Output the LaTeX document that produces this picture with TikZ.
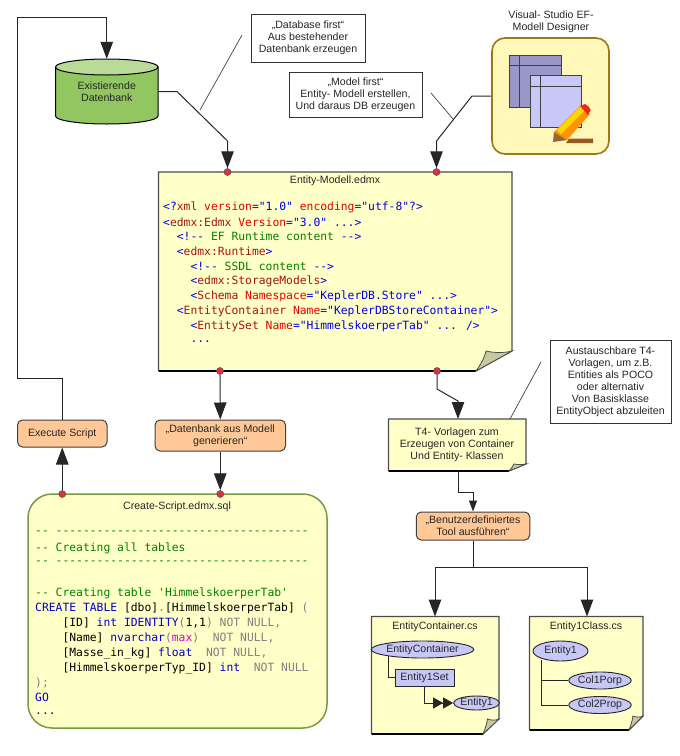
\documentclass[tikz,border=0pt]{standalone}
\usepackage{fontspec}
\setmainfont{Liberation Sans}
\newfontfamily\codefont{DejaVu Sans Mono}
\usetikzlibrary{arrows.meta,shapes.geometric}
\definecolor{noteY}{HTML}{FFFFC8}
\definecolor{orangeB}{HTML}{FFC896}
\definecolor{lilac}{HTML}{C8C8F8}
\definecolor{lilacdark}{HTML}{9898C8}
\definecolor{foldc}{HTML}{C8C8A0}
\definecolor{dotred}{HTML}{E03040}
\definecolor{desfill}{HTML}{FFF8B8}
\definecolor{desline}{HTML}{A07818}
\definecolor{cylb}{HTML}{92C660}
\definecolor{cylt}{HTML}{B8DC98}
\definecolor{sqlline}{HTML}{789A40}
\definecolor{xblue}{HTML}{0000E0}
\definecolor{xtag}{HTML}{A31515}
\definecolor{xattr}{HTML}{E00000}
\definecolor{xgreen}{HTML}{008000}
\definecolor{sqlkw}{HTML}{0000C0}
\definecolor{sqlgray}{HTML}{808080}
\definecolor{sqlmag}{HTML}{E000C0}
\newcommand{\cB}[1]{\textcolor{xblue}{#1}}
\newcommand{\cT}[1]{\textcolor{xtag}{#1}}
\newcommand{\cA}[1]{\textcolor{xattr}{#1}}
\newcommand{\cC}[1]{\textcolor{xgreen}{#1}}
\newcommand{\cK}[1]{\textcolor{sqlkw}{#1}}
\newcommand{\cG}[1]{\textcolor{sqlgray}{#1}}
\newcommand{\cM}[1]{\textcolor{sqlmag}{#1}}
\tikzset{
  lbl/.style={font=\fontsize{10.6}{12}\selectfont,align=center,inner sep=0pt,text=black!85},
  plainbox/.style={lbl,draw=black!80,fill=white,line width=0.8pt},
  action/.style={lbl,draw=black!75,fill=orangeB,rounded corners=5pt,line width=1pt},
  codeline/.style={anchor=west,inner sep=0pt,font=\codefont\fontsize{11.35}{13}\selectfont},
  conn/.style={draw=black!85,line width=1pt},
  tipped/.style={conn,-{Triangle[length=17pt,width=12.5pt]}},
  smalltip/.style={conn,-{Triangle[length=11pt,width=8pt]}},
  lead/.style={draw=black!75,line width=0.7pt},
  reddot/.style={circle,draw=black!70,fill=dotred,line width=0.5pt,minimum size=7pt,inner sep=0pt},
  oval/.style={ellipse,lbl,draw=black!85,fill=lilac,line width=0.9pt,inner sep=0pt},
  notepaper/.style={draw=black!70,fill=noteY,line width=1.1pt},
  foldpaper/.style={draw=black!70,fill=foldc,line width=0.8pt},
}
% x0 y0 x1 y1 foldw foldh
\newcommand{\foldnote}[6]{%
  \path[notepaper] (#1,#2) -- (#3,#2) -- (#3,#4-#6) -- (#3-#5,#4) -- (#1,#4) -- cycle;
  \draw[black,line width=1.1pt] (#1,#4) -- (#3-#5,#4);
  \path[foldpaper] (#3-#5,#4) .. controls (#3-#5+0.2*#5,#4-0.5*#6) and (#3-#5+0.25*#5,#4-0.8*#6) .. (#3-0.72*#5,#4-#6) .. controls (#3-0.5*#5,#4-0.9*#6) and (#3-0.2*#5,#4-0.9*#6) .. (#3,#4-#6) -- cycle;
}
\begin{document}
\begin{tikzpicture}[x=1pt,y=-1pt]
\useasboundingbox (0,0) rectangle (680,756);

% ---- Database cylinder
\path[draw=black,line width=1pt,fill=cylb] (55.5,67) -- (55.5,116) arc[x radius=51.25pt,y radius=8pt,start angle=180,end angle=360] -- (158,67) -- cycle;
\path[draw=black,line width=1pt,fill=cylt] (106.75,67) ellipse[x radius=51.25pt,y radius=8pt];
\node[lbl,minimum width=102.5pt,minimum height=65pt] (db) at (106.75,91.5) {Existierende\\Datenbank};

% ---- Notes at top
\node[plainbox,minimum width=114pt,minimum height=48pt] (notedb) at (308,38) {„Database first“\\Aus bestehender\\Datenbank erzeugen};
\node[plainbox,minimum width=133pt,minimum height=45pt] (notemodel) at (355.5,94.5) {„Model first“\\Entity- Modell erstellen,\\Und daraus DB erzeugen};

% ---- Designer
\node[lbl] (designerlabel) at (551,22) {Visual- Studio EF-\\Modell Designer};
\node[draw=desline,fill=desfill,line width=1.6pt,rounded corners=13pt,minimum width=117pt,minimum height=116pt,inner sep=0pt] (designer) at (550.5,96) {};
\draw[black!75,fill=lilacdark,line width=0.8pt] (509,55) rectangle (561,107);
\draw[black!75,line width=0.8pt] (509,65) -- (561,65) (519,55) -- (519,107);
\draw[black!75,fill=lilac,line width=0.8pt] (530,75.5) rectangle (581,127);
\draw[black!75,line width=0.8pt] (530,86) -- (581,86) (540,75.5) -- (540,127);
% pencil
\fill[brown!70!orange!70!black] (566,143) -- (569,138.5) -- (593,138.5) -- (593,143) -- cycle;
\fill[orange!85!yellow] (554,132) -- (580,106) -- (590,114) -- (567,140) -- cycle;
\fill[yellow!75!orange] (557,130) -- (581,106) -- (585,110) -- (561,134) -- cycle;
\fill[red!65!brown] (580,106) -- (585,104) .. controls (588,105) and (590,108) .. (590.7,110) -- (588,115) -- cycle;
\fill[brown!80!black] (553,142) -- (554,132) -- (567,140) -- cycle;

% ---- Main note
\foldnote{158.5}{172}{512}{371}{36}{20}
\node[lbl] (maintitle) at (335,181) {Entity-Modell.edmx};
\node[codeline] (m1) at (163,207) {\cB{<?}\cT{xml} \cA{version}\cB{="1.0"} \cA{encoding}\cB{="utf-8"?>}};
\node[codeline] (m2) at (163,222) {\cB{<}\cT{edmx:Edmx} \cA{Version}\cB{="3.0" ...>}};
\node[codeline] (m3) at (163,236) {~~\cB{<!--} \cC{EF Runtime content} \cB{-->}};
\node[codeline] (m4) at (163,251) {~~\cB{<}\cT{edmx:Runtime}\cB{>}};
\node[codeline] (m5) at (163,266) {~~~~\cB{<!--} \cC{SSDL content} \cB{-->}};
\node[codeline] (m6) at (163,281) {~~~~\cB{<}\cT{edmx:StorageModels}\cB{>}};
\node[codeline] (m7) at (163,296) {~~~~\cB{<}\cT{Schema} \cA{Namespace}\cB{="KeplerDB.Store" ...>}};
\node[codeline] (m8) at (163,311) {~~\cB{<}\cT{EntityContainer} \cA{Name}\cB{="KeplerDBStoreContainer">}};
\node[codeline] (m9) at (163,326) {~~~~\cB{<}\cT{EntitySet} \cA{Name}\cB{="HimmelskoerperTab" ... />}};
\node[codeline] (m10) at (163,342) {~~~~\cB{...}};
\node[reddot] (mtl) at (227.5,172) {};
\node[reddot] (mtr) at (436.5,172) {};
\node[reddot] (mbl) at (220,371) {};
\node[reddot] (mbr) at (437,371) {};

% ---- Left flow boxes
\node[action,minimum width=89.5pt,minimum height=27pt] (exec) at (62.25,433.5) {Execute Script};
\node[action,minimum width=130.5pt,minimum height=31pt] (gen) at (220.25,435.5) {„Datenbank aus Modell\\generieren“};

% ---- SQL box
\path[draw=sqlline,fill=noteY,line width=1.5pt,rounded corners=24pt] (28,494) rectangle (327,728);
\node[lbl] (sqltitle) at (177,507) {Create-Script.edmx.sql};
\node[codeline] (s1) at (35,533) {\cC{-- -------------------------------------}};
\node[codeline] (s2) at (35,548) {\cC{-- Creating all tables}};
\node[codeline] (s3) at (35,563) {\cC{-- -------------------------------------}};
\node[codeline] (s4) at (35,593) {\cC{-- Creating table 'HimmelskoerperTab'}};
\node[codeline] (s5) at (35,608) {\cK{CREATE TABLE} [dbo]\cG{.}[HimmelskoerperTab] \cG{(}};
\node[codeline] (s6) at (35,623) {~~~~[ID] \cK{int} \cK{IDENTITY}\cG{(}1,1\cG{)} \cG{NOT NULL,}};
\node[codeline] (s7) at (35,638) {~~~~[Name] \cK{nvarchar}\cG{(}\cM{max}\cG{)}~~\cG{NOT NULL,}};
\node[codeline] (s8) at (35,653) {~~~~[Masse\_in\_kg] \cK{float}~~\cG{NOT NULL,}};
\node[codeline] (s9) at (35,668) {~~~~[HimmelskoerperTyp\_ID] \cK{int}~~\cG{NOT NULL}};
\node[codeline] (s10) at (35,683) {\cG{);}};
\node[codeline] (s11) at (35,697) {\cK{GO}};
\node[codeline] (s12) at (35,714) {\cK{...}};
\node[reddot] (stl) at (62.25,494) {};
\node[reddot] (str) at (220.25,494) {};

% ---- Right flow
\foldnote{388.5}{419}{526}{471}{17}{7}
\node[lbl] (t4) at (457,445) {T4- Vorlagen zum\\Erzeugen von Container\\Und Entity- Klassen};
\coordinate (t4top) at (458,419);
\coordinate (t4bot) at (458,471);
\coordinate (t4lead) at (510,419);
\node[plainbox,minimum width=121pt,minimum height=83pt] (notet4) at (610.5,381.5) {Austauschbare T4-\\Vorlagen, um z.B.\\Entities als POCO\\oder alternativ\\Von Basisklasse\\EntityObject abzuleiten};
\node[action,minimum width=113.5pt,minimum height=28pt] (tool) at (473,526) {„Benutzerdefiniertes\\Tool ausführen“};

% ---- Output files
\foldnote{371.5}{616.5}{499}{734}{16}{15}
\node[lbl] (ectitle) at (435,626.5) {EntityContainer.cs};
\coordinate (ectop) at (435,616.5);
\node[oval,minimum width=97pt,minimum height=17pt] (ec) at (422.5,649.5) {EntityContainer};
\node[lbl,draw=black!85,fill=lilac,line width=0.9pt,minimum width=59pt,minimum height=17pt] (eset) at (424.5,677.5) {Entity1Set};
\node[oval,minimum width=38pt,minimum height=14pt] (e1a) at (476.5,703) {Entity1};

\foldnote{529.5}{616.5}{643}{730}{14}{14}
\node[lbl] (cltitle) at (586,626.5) {Entity1Class.cs};
\coordinate (cltop) at (587,616.5);
\node[oval,minimum width=55pt,minimum height=20pt] (e1b) at (560.5,651) {Entity1};
\node[oval,minimum width=52pt,minimum height=17pt] (c1) at (600,680.5) {Col1Porp};
\node[oval,minimum width=52pt,minimum height=17pt] (c2) at (600,705) {Col2Prop};

% ---- Connectors
\coordinate (toploopa) at (17.5,378);
\coordinate (toploopb) at (17.5,17.5);
\draw[tipped] (exec.north) |- (toploopa) -- (toploopb) -| (db.north);
\draw[tipped] (db.east) -- (177,91.5) -- (227.5,141) -- (mtl.north);
\draw[tipped] (designer.west) -- (472,96) -- (436.5,141) -- (mtr.north);
\draw[tipped] (mbl.south) -- (gen.north);
\draw[tipped] (gen.south) -- (str.north);
\draw[tipped] (stl.north) -- (exec.south);
\draw[tipped] (mbr.south) -- (437,389) -- (458,401) -- (t4top);
\draw[smalltip] (t4bot) -- (458,492) -| (tool.north);
\coordinate (busc) at (473,567);
\coordinate (busl) at (435,567);
\coordinate (busr) at (587,567);
\draw[conn] (tool.south) -- (busc);
\draw[tipped] (busc) -- (busl) -- (ectop);
\draw[tipped] (busc) -- (busr) -- (cltop);
\draw[conn] (388,656) -- (388,677.5) -- (eset.west);
\coordinate (esetbend) at (424.5,703);
\draw[conn] (eset.south) -- (esetbend) -- (440,703);
\draw[conn,-{Triangle[length=10pt,width=11pt]Triangle[length=10pt,width=11pt]}] (440,703) -- (e1a.west);
\draw[conn] (541,660) -- (541,705) -- (c2.west);
\draw[conn] (541,680.5) -- (c1.west);

% ---- Leader lines
\coordinate (leaddb) at (242,35);
\coordinate (leaddbend) at (200,110);
\draw[lead] (leaddb) -- (leaddbend);
\coordinate (leadm) at (431,93);
\coordinate (leadmend) at (453,119);
\draw[lead] (leadm) -- (leadmend);
\coordinate (leadt) at (541,362);
\draw[lead] (leadt) -- (t4lead);
\end{tikzpicture}
\end{document}
